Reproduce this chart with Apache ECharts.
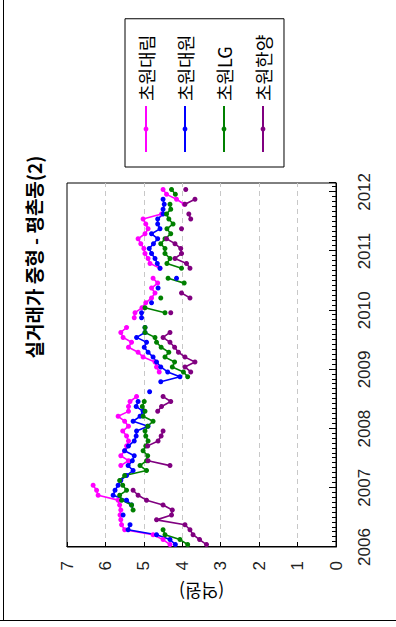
<!DOCTYPE html>
<html><head><meta charset="utf-8">
<script src="https://cdn.jsdelivr.net/npm/echarts@6/dist/echarts.min.js"></script>
<style>
html,body{margin:0;padding:0;background:#fff;overflow:hidden;width:396px;height:627px;}
#chart{position:absolute;left:0;top:0;width:627px;height:396px;transform-origin:0 0;transform:translate(0,627px) rotate(-90deg);}
</style></head><body><div id="chart"></div>
<script>
const months = [
'2006-01','2006-02','2006-03','2006-04','2006-05','2006-06','2006-07','2006-08','2006-09','2006-10','2006-11','2006-12',
'2007-01','2007-02','2007-03','2007-04','2007-05','2007-06','2007-07','2007-08','2007-09','2007-10','2007-11','2007-12',
'2008-01','2008-02','2008-03','2008-04','2008-05','2008-06','2008-07','2008-08','2008-09','2008-10','2008-11','2008-12',
'2009-01','2009-02','2009-03','2009-04','2009-05','2009-06','2009-07','2009-08','2009-09','2009-10','2009-11','2009-12',
'2010-01','2010-02','2010-03','2010-04','2010-05','2010-06','2010-07','2010-08','2010-09','2010-10','2010-11','2010-12',
'2011-01','2011-02','2011-03','2011-04','2011-05','2011-06','2011-07','2011-08','2011-09','2011-10','2011-11','2011-12',
'2012-01'];
const seriesNames = ['초원대림','초원대원','초원LG','초원한양'];
const daerim = [
4.32,4.5,4.76,5.5,5.58,5.6,5.62,5.6,5.63,5.67,
6.19,6.23,6.32,null,null,null,5.6,5.4,5.6,5.5,
5.45,5.4,5.45,5.55,5.4,5.5,5.67,5.4,5.4,5.36,
5.19,null,null,null,null,4.6,4.67,4.71,5.02,5.15,
5.4,5.32,5.54,5.6,5.45,null,5.25,5.23,5.05,4.95,
4.8,4.71,4.8,4.64,4.76,null,4.58,4.84,4.89,4.97,
5.0,5.08,5.15,4.97,4.89,4.95,5.02,4.54,null,3.95,
4.15,4.41,4.5];
const daewon = [
4.18,4.32,4.67,5.41,5.36,null,5.54,null,5.32,5.45,
5.8,5.75,5.67,5.6,5.45,5.28,5.41,5.3,5.25,5.5,
5.4,5.25,5.2,5.19,4.89,5.28,5.1,5.02,5.2,5.15,
null,4.85,null,4.56,4.06,4.38,4.56,4.67,4.76,4.89,
4.99,4.93,5.19,4.97,4.97,null,5.06,5.06,null,4.8,
null,null,4.63,null,4.15,null,4.58,4.65,4.71,4.8,
4.86,4.75,4.64,4.8,4.58,4.64,4.64,4.5,4.5,4.47,
4.5,null,null];
const lg = [
3.86,4.06,4.45,4.5,null,null,null,5.28,5.32,5.58,
5.63,5.45,5.55,5.63,5.5,4.93,5.1,4.93,4.9,5.02,
4.95,4.89,4.95,4.97,4.9,4.76,5.02,4.97,5.04,4.99,
null,null,null,null,3.86,3.97,4.26,4.2,4.45,4.35,
4.55,4.67,4.71,4.97,4.97,null,null,4.45,4.97,null,
4.56,null,null,3.95,4.37,null,4.02,4.4,4.32,4.45,
4.45,4.56,4.45,4.3,4.4,4.24,4.35,4.41,4.3,4.32,
null,4.18,4.28];
const hanyang = [
3.37,3.55,3.72,3.8,3.93,4.67,4.28,4.26,4.5,4.93,
5.15,5.28,null,null,null,null,4.32,4.89,null,null,
4.9,4.63,4.55,4.5,null,null,null,4.64,4.54,4.3,
4.5,null,null,null,null,3.78,3.93,3.67,3.93,4.1,
4.2,4.32,4.5,4.32,null,null,null,4.3,null,null,
3.8,4.02,null,null,null,null,3.8,3.89,4.19,4.02,
4.04,4.19,4.41,null,4.02,null,3.78,3.83,null,3.93,
3.67,null,3.91];
const yTicks = [0,1,2,3,4,5,6,7];
const colors = ['#FF00FF','#0000FF','#008000','#800080'];

function monthToX(s){ const p = s.split('-').map(Number); return p[0] + (p[1]-0.5)/12; }
function build(vals){ return months.map((m,i)=>[monthToX(m), vals[i]==null ? '-' : vals[i]]); }

const allVals = [daerim, daewon, lg, hanyang];
const numFont = 'Liberation Sans';
const korFont = 'Noto Sans CJK KR';

const chart = echarts.init(document.getElementById('chart'), null, {renderer:'svg', width:627, height:396});
chart.setOption({
  animation:false,
  backgroundColor:'#fff',
  title:{text:'실거래가 중형 - 평촌동(2)', left:365, top:19, textAlign:'center',
    textStyle:{fontFamily:korFont, fontSize:19, fontWeight:'bold', color:'#000'}},
  legend:{orient:'vertical', left:460, top:125, itemWidth:46, itemHeight:6, itemGap:21,
    padding:[12,16,12,14], borderColor:'#000', borderWidth:1,
    textStyle:{fontFamily:korFont, fontSize:18, color:'#000'}, data:seriesNames},
  grid:{left:80, right:183, top:67, bottom:60, containLabel:false, outerBoundsMode:'none',
    show:true, borderColor:'#000', borderWidth:1},
  xAxis:[{type:'value', min:2006, max:2012.15, interval:1, position:'bottom',
    axisLine:{show:true, lineStyle:{color:'#000', width:1}},
    axisTick:{show:true, inside:true, length:7, lineStyle:{color:'#000'}},
    axisLabel:{margin:20, fontFamily:numFont, fontSize:17, color:'#222',
      formatter:v=> Math.abs(v-Math.round(v))<1e-6 ? String(Math.round(v)) : ''},
    splitLine:{show:false}},
   {type:'value', min:2006, max:2012.15, interval:1/12, position:'bottom',
    axisLine:{show:false}, axisTick:{show:true, inside:true, length:4, lineStyle:{color:'#000'}},
    axisLabel:{show:false}, splitLine:{show:false}}],
  yAxis:{type:'value', min:yTicks[0], max:yTicks[yTicks.length-1], interval:1,
    name:'(억원)', nameLocation:'middle', nameRotate:90, nameGap:36,
    nameTextStyle:{fontFamily:korFont, fontSize:18, color:'#000'},
    axisLine:{show:true, lineStyle:{color:'#000', width:1}},
    axisTick:{show:true, inside:true, length:5, lineStyle:{color:'#000'}},
    axisLabel:{margin:14, fontFamily:numFont, fontSize:17, color:'#222'},
    splitLine:{show:true, showMinLine:false, showMaxLine:false, lineStyle:{color:'#c8c8c8', type:[5,4], width:1}}},
  graphic:[
    {type:'line', shape:{x1:6.5,y1:0,x2:6.5,y2:396}, style:{stroke:'#000', lineWidth:1}},
    {type:'line', shape:{x1:6.5,y1:3.5,x2:627,y2:3.5}, style:{stroke:'#000', lineWidth:1}}
  ],
  series: seriesNames.map((n,i)=>({
    name:n, type:'line', xAxisIndex:0, data:build(allVals[i]),
    symbol:'circle', symbolSize:5, showSymbol:true, connectNulls:false,
    itemStyle:{color:colors[i]}, lineStyle:{color:colors[i], width:1.6}
  }))
});
</script></body></html>
